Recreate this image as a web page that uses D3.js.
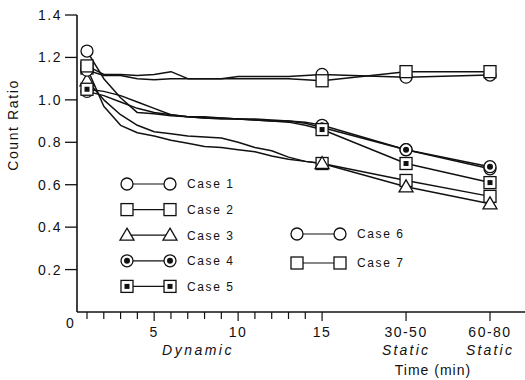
<!DOCTYPE html>
<html><head><meta charset="utf-8">
<script src="https://cdn.jsdelivr.net/npm/d3@7"></script>
<style>
html,body{margin:0;padding:0;background:#fff;}
svg{display:block;font-family:"Liberation Sans",Arial,sans-serif;}
</style></head>
<body><div id="chart"></div>
<script>
// Time positions: minutes 1..15 (dynamic), then the two static periods
const timeValues = [1,2,3,4,5,6,7,8,9,10,11,12,13,14,15,20,25];
const xTickValues = [5,10,15,20,25];
const xTickLabels = ["5","10","15","30-50","60-80"];
const yTickValues = [0.2,0.4,0.6,0.8,1.0,1.2,1.4];
const markerIndices = [0,14,15,16];

const case1 = [1.23,1.10,1.01,0.94,0.935,0.925,0.92,0.915,0.915,0.91,0.91,0.905,0.90,0.89,0.87,0.765,0.675];
const case2 = [1.15,0.97,0.88,0.845,0.83,0.81,0.795,0.78,0.775,0.765,0.755,0.735,0.72,0.71,0.70,0.62,0.545];
const case3 = [1.09,1.00,0.93,0.88,0.85,0.84,0.83,0.825,0.82,0.80,0.775,0.76,0.73,0.71,0.70,0.59,0.51];
const case4 = [1.04,1.02,0.99,0.96,0.94,0.93,0.92,0.915,0.91,0.91,0.905,0.90,0.90,0.895,0.88,0.765,0.685];
const case5 = [1.05,1.04,1.02,0.99,0.96,0.93,0.92,0.92,0.915,0.91,0.905,0.90,0.895,0.88,0.86,0.70,0.61];
const case6 = [1.14,1.115,1.115,1.10,1.095,1.10,1.10,1.10,1.10,1.11,1.11,1.11,1.11,1.115,1.12,1.107,1.117];
const case7 = [1.16,1.12,1.12,1.115,1.12,1.133,1.10,1.10,1.10,1.10,1.10,1.10,1.10,1.095,1.09,1.133,1.133];

const caseNames = ["Case 1","Case 2","Case 3","Case 4","Case 5","Case 6","Case 7"];
const caseValues = [case1,case2,case3,case4,case5,case6,case7];
const caseMarkers = ["circle","square","triangle","circleDot","squareDot","circle","square"];

const W = 525, H = 380;
const svg = d3.select("#chart").append("svg").attr("width",W).attr("height",H);

const x = d3.scaleLinear().domain([1,25]).range([87,490]);
const y = d3.scaleLinear().domain([0,1.4]).range([312,15]);
const x0 = 77;

const ink = "#111";

// Y axis
const yAxis = svg.append("g");
yAxis.append("line").attr("x1",x0).attr("x2",x0).attr("y1",y(1.4)).attr("y2",y(0))
  .attr("stroke",ink).attr("stroke-width",1.6);
yTickValues.forEach(v=>{
  yAxis.append("line").attr("x1",x0-12).attr("x2",x0).attr("y1",y(v)).attr("y2",y(v))
    .attr("stroke",ink).attr("stroke-width",1.3);
  yAxis.append("text").attr("x",x0-15).attr("y",y(v)).attr("dy","0.36em")
    .attr("text-anchor","end").attr("font-size",14).attr("letter-spacing",1.5)
    .attr("fill",ink).text(d3.format(".1f")(v));
});
svg.append("text").attr("x",70).attr("y",328).attr("text-anchor","middle")
  .attr("font-size",14).attr("fill",ink).text("0");
svg.append("text").attr("transform","translate(18,125) rotate(-90)")
  .attr("text-anchor","middle").attr("font-size",14).attr("letter-spacing",1.6)
  .attr("fill",ink).text("Count Ratio");

// X axis
const xAxis = svg.append("g");
xAxis.append("line").attr("x1",x0).attr("x2",W).attr("y1",y(0)).attr("y2",y(0))
  .attr("stroke",ink).attr("stroke-width",1.6);
d3.range(1,16).concat([20,25]).forEach(t=>{
  const major = xTickValues.includes(t);
  xAxis.append("line").attr("x1",x(t)).attr("x2",x(t)).attr("y1",y(0)).attr("y2",y(0)+(major?9:7))
    .attr("stroke",ink).attr("stroke-width",1.2);
});
xTickValues.forEach((t,i)=>{
  xAxis.append("text").attr("x",x(t)).attr("y",337).attr("text-anchor","middle")
    .attr("font-size",14).attr("letter-spacing",1.5).attr("fill",ink).text(xTickLabels[i]);
});
xAxis.append("text").attr("x",198).attr("y",355).attr("text-anchor","middle")
  .attr("font-size",14).attr("font-style","italic").attr("letter-spacing",2.5).attr("fill",ink).text("Dynamic");
[20,25].forEach(t=>{
  xAxis.append("text").attr("x",x(t)).attr("y",355).attr("text-anchor","middle")
    .attr("font-size",14).attr("font-style","italic").attr("letter-spacing",2.2).attr("fill",ink).text("Static");
});
xAxis.append("text").attr("x",433).attr("y",375).attr("text-anchor","middle")
  .attr("font-size",14).attr("letter-spacing",1).attr("fill",ink).text("Time (min)");

// Marker drawing
function drawMarker(g, type, cx, cy){
  const sw = 1.3;
  if(type==="circle" || type==="circleDot"){
    g.append("circle").attr("cx",cx).attr("cy",cy).attr("r",6)
      .attr("fill","#fff").attr("stroke",ink).attr("stroke-width",sw);
    if(type==="circleDot") g.append("circle").attr("cx",cx).attr("cy",cy).attr("r",3).attr("fill",ink);
  } else if(type==="square" || type==="squareDot"){
    g.append("rect").attr("x",cx-6).attr("y",cy-6).attr("width",12).attr("height",12)
      .attr("fill","#fff").attr("stroke",ink).attr("stroke-width",sw);
    if(type==="squareDot") g.append("rect").attr("x",cx-2.5).attr("y",cy-2.5).attr("width",5).attr("height",5).attr("fill",ink);
  } else if(type==="triangle"){
    g.append("path").attr("d",`M${cx},${cy-7}L${cx+7},${cy+5}L${cx-7},${cy+5}Z`)
      .attr("fill","#fff").attr("stroke",ink).attr("stroke-width",sw).attr("stroke-linejoin","miter");
  }
}

// Lines
const line = d3.line().x((d,i)=>x(timeValues[i])).y(d=>y(d)).curve(d3.curveLinear);
const linesG = svg.append("g");
caseValues.forEach(vals=>{
  linesG.append("path").attr("d",line(vals)).attr("fill","none")
    .attr("stroke",ink).attr("stroke-width",1.5).attr("stroke-linejoin","round");
});
// Markers
const markG = svg.append("g");
caseValues.forEach((vals,ci)=>{
  markerIndices.forEach(i=>drawMarker(markG, caseMarkers[ci], x(timeValues[i]), y(vals[i])));
});

// Legend
const legend = svg.append("g");
function legendRow(idx, lx, ly){
  legend.append("line").attr("x1",lx).attr("x2",lx+43).attr("y1",ly).attr("y2",ly)
    .attr("stroke",ink).attr("stroke-width",1.2);
  drawMarker(legend, caseMarkers[idx], lx, ly);
  drawMarker(legend, caseMarkers[idx], lx+43, ly);
  legend.append("text").attr("x",lx+60).attr("y",ly).attr("dy","0.36em")
    .attr("font-size",12).attr("letter-spacing",1.6).attr("fill",ink).text(caseNames[idx]);
}
[0,1,2,3,4].forEach(i=>legendRow(i,127,184+i*25.6));
legendRow(5,297,234);
legendRow(6,297,263);
</script></body></html>
